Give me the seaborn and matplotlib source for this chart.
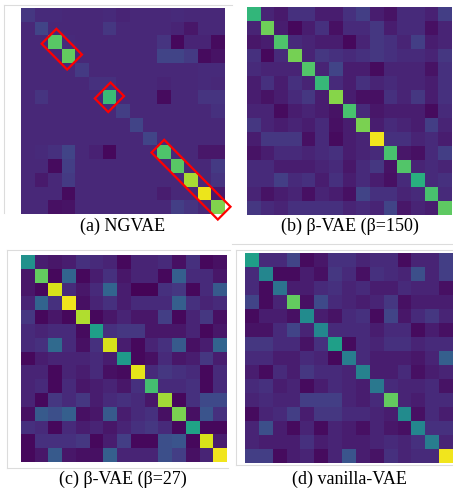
import numpy as np
import matplotlib
matplotlib.use('Agg')
import matplotlib.pyplot as plt
from matplotlib.patches import Polygon
import seaborn as sns

# --- valores (escala 0-100) ---
ngvae = [
    [16, 12, 12, 11, 11, 11, 12, 10, 11, 11, 11, 12, 11, 11, 11],
    [11, 20, 11, 11, 11, 11, 16, 11, 11, 11, 11, 10, 6, 11, 11],
    [11, 11, 74, 12, 11, 11, 11, 11, 11, 11, 15, 2, 10, 10, 3],
    [11, 11, 11, 76, 11, 11, 11, 11, 11, 11, 20, 20, 17, 3, 5],
    [11, 11, 11, 11, 17, 11, 11, 11, 11, 11, 11, 11, 11, 12, 12],
    [11, 11, 11, 11, 11, 14, 14, 11, 11, 11, 10, 11, 11, 12, 11],
    [11, 15, 11, 11, 11, 11, 68, 11, 11, 11, 3, 11, 11, 15, 15],
    [11, 11, 11, 11, 11, 11, 11, 18, 11, 11, 11, 11, 11, 11, 14],
    [11, 11, 11, 11, 11, 11, 11, 11, 20, 11, 11, 11, 11, 11, 11],
    [11, 11, 11, 11, 11, 11, 11, 11, 11, 20, 11, 11, 11, 11, 11],
    [11, 12, 14, 20, 11, 9, 2, 11, 11, 11, 72, 11, 11, 6, 6],
    [11, 11, 3, 18, 11, 11, 11, 11, 11, 11, 11, 74, 11, 11, 17],
    [11, 7, 11, 17, 11, 11, 11, 11, 11, 11, 11, 11, 87, 11, 15],
    [11, 11, 11, 3, 11, 11, 11, 11, 11, 11, 8, 11, 11, 97, 7],
    [11, 11, 4, 5, 11, 11, 11, 11, 11, 11, 11, 18, 15, 11, 81],
]

beta150 = [
    [66, 10, 7, 14, 14, 8, 8, 14, 18, 8, 5, 12, 12, 9, 18],
    [10, 78, 8, 2, 8, 14, 4, 12, 12, 16, 8, 12, 12, 4, 10],
    [6, 8, 72, 12, 10, 8, 8, 2, 10, 16, 14, 10, 18, 8, 10],
    [14, 2, 12, 79, 10, 16, 14, 12, 14, 16, 14, 12, 12, 10, 16],
    [12, 10, 10, 10, 73, 10, 20, 8, 8, 3, 10, 10, 10, 5, 14],
    [8, 14, 8, 14, 10, 67, 12, 8, 14, 10, 12, 10, 10, 8, 14],
    [8, 5, 8, 12, 16, 8, 82, 8, 4, 4, 14, 10, 16, 8, 14],
    [10, 10, 3, 8, 10, 8, 5, 71, 12, 6, 8, 8, 8, 3, 12],
    [16, 10, 8, 10, 8, 12, 4, 8, 80, 8, 12, 10, 8, 18, 10],
    [8, 16, 16, 16, 4, 12, 3, 8, 10, 98, 14, 14, 10, 12, 8],
    [5, 8, 12, 12, 10, 12, 14, 8, 10, 12, 71, 6, 4, 12, 18],
    [12, 12, 8, 8, 8, 10, 12, 6, 12, 16, 5, 73, 10, 12, 10],
    [12, 12, 18, 12, 14, 8, 14, 8, 12, 8, 4, 12, 63, 12, 14],
    [10, 5, 8, 10, 4, 10, 8, 4, 20, 14, 14, 10, 12, 71, 12],
    [16, 12, 10, 14, 14, 14, 14, 10, 12, 10, 20, 6, 10, 8, 75],
]

beta27 = [
    [50, 8, 6, 8, 14, 12, 10, 2, 10, 10, 12, 4, 14, 2, 4],
    [6, 76, 2, 32, 2, 8, 14, 6, 10, 10, 2, 30, 12, 12, 6],
    [6, 2, 94, 12, 6, 12, 32, 8, 1, 1, 14, 16, 2, 12, 28],
    [10, 32, 14, 98, 4, 10, 14, 8, 12, 12, 12, 30, 14, 10, 12],
    [16, 2, 6, 2, 88, 2, 6, 10, 6, 6, 18, 2, 10, 16, 4],
    [12, 10, 12, 12, 3, 56, 14, 16, 16, 6, 6, 6, 10, 2, 6],
    [12, 14, 34, 12, 4, 14, 94, 8, 2, 10, 14, 28, 4, 8, 32],
    [2, 8, 10, 10, 10, 12, 8, 54, 2, 4, 12, 6, 8, 16, 8],
    [10, 10, 2, 10, 8, 12, 4, 3, 96, 12, 16, 14, 12, 2, 12],
    [10, 12, 2, 12, 6, 8, 10, 6, 14, 70, 12, 12, 14, 2, 12],
    [10, 2, 16, 12, 16, 8, 12, 14, 12, 6, 86, 2, 14, 22, 22],
    [4, 28, 24, 30, 4, 6, 28, 8, 12, 14, 4, 80, 4, 26, 14],
    [14, 12, 2, 12, 8, 10, 6, 10, 14, 16, 12, 2, 58, 2, 2],
    [2, 14, 14, 14, 16, 2, 8, 18, 2, 2, 24, 26, 2, 94, 8],
    [2, 6, 28, 6, 4, 4, 30, 10, 10, 10, 24, 18, 4, 10, 98],
]

vanilla = [
    [56, 12, 12, 20, 3, 6, 14, 14, 10, 12, 12, 3, 10, 10, 18],
    [12, 46, 3, 3, 8, 4, 16, 12, 4, 14, 12, 10, 24, 10, 18],
    [12, 3, 38, 8, 8, 12, 14, 10, 12, 8, 8, 12, 10, 10, 4],
    [20, 3, 10, 76, 4, 22, 12, 10, 8, 10, 16, 4, 8, 8, 8],
    [3, 8, 8, 4, 48, 8, 5, 12, 14, 3, 20, 6, 12, 16, 10],
    [5, 5, 12, 20, 10, 46, 12, 12, 12, 8, 12, 12, 3, 8, 4],
    [16, 16, 12, 12, 5, 14, 56, 3, 12, 10, 14, 14, 10, 12, 12],
    [12, 12, 8, 8, 12, 10, 2, 42, 12, 8, 8, 8, 6, 10, 30],
    [8, 3, 12, 8, 16, 12, 12, 10, 44, 8, 8, 12, 4, 8, 10],
    [12, 14, 8, 10, 3, 8, 12, 10, 8, 40, 12, 10, 10, 12, 5],
    [10, 12, 10, 10, 18, 18, 18, 10, 8, 12, 76, 10, 8, 12, 12],
    [3, 10, 12, 18, 8, 16, 16, 12, 12, 10, 8, 48, 4, 12, 8],
    [10, 24, 8, 3, 10, 3, 10, 8, 4, 10, 6, 4, 46, 14, 14],
    [10, 8, 8, 8, 14, 8, 10, 8, 8, 10, 12, 10, 14, 42, 10],
    [18, 18, 3, 8, 10, 3, 10, 26, 8, 5, 14, 10, 12, 12, 98],
]

titulos = ['(a) NGVAE', '(b) \u03b2-VAE (\u03b2=150)',
           '(c) \u03b2-VAE (\u03b2=27)', '(d) vanilla-VAE']

# cajas rojas en (a): (celda inicial, celda final, extensión, semiancho)
cajas = [(2, 3, 0.62, 0.77), (6, 6, 0.7, 0.82), (10, 14, 0.62, 0.66)]

# --- figura ---
W, H = 453, 491
fig = plt.figure(figsize=(W / 100, H / 100), dpi=100)

# posiciones en píxeles: (izq, arriba, ancho, alto)
paneles = [(21, 8, 204, 206), (247, 7, 205, 208),
           (21, 255, 206, 207), (245, 253, 208, 210)]
pos_titulos = [(123, 226), (350, 226), (123, 479), (349, 479)]

for datos, (x0, y0, w, h), titulo, (tx, ty) in zip(
        [ngvae, beta150, beta27, vanilla], paneles, titulos, pos_titulos):
    ax = fig.add_axes([x0 / W, 1 - (y0 + h) / H, w / W, h / H])
    sns.heatmap(np.array(datos), ax=ax, cmap='viridis', vmin=0, vmax=100,
                cbar=False, xticklabels=False, yticklabels=False)
    fig.text(tx / W, 1 - ty / H, titulo, ha='center', va='center',
             fontsize=13, family='Liberation Serif')
    if titulo.startswith('(a)'):
        u = np.array([1, 1]) / np.sqrt(2)
        v = np.array([1, -1]) / np.sqrt(2)
        for ini, fin, ext, hw in cajas:
            c0 = np.array([ini + 0.5, ini + 0.5])
            c1 = np.array([fin + 0.5, fin + 0.5])
            pts = [c0 - ext * u - hw * v, c0 - ext * u + hw * v,
                   c1 + ext * u + hw * v, c1 + ext * u - hw * v]
            ax.add_patch(Polygon(pts, closed=True, fill=False,
                                 edgecolor='red', linewidth=1.6,
                                 clip_on=False))

# líneas grises tenues del recorte original
gris = '#dcdcdc'
lineas = [((4, 5), (4, 213)), ((4, 5), (232, 5)),
          ((232, 244), (453, 244)), ((7, 250), (230, 250)),
          ((7, 250), (7, 468)), ((7, 468), (228, 468)),
          ((236, 250), (453, 250)), ((236, 250), (236, 465)),
          ((236, 465), (453, 465))]
for (xa, ya), (xb, yb) in lineas:
    fig.add_artist(plt.Line2D([xa / W, xb / W], [1 - ya / H, 1 - yb / H],
                              color=gris, linewidth=0.8))

plt.savefig('out.png', dpi=100)
